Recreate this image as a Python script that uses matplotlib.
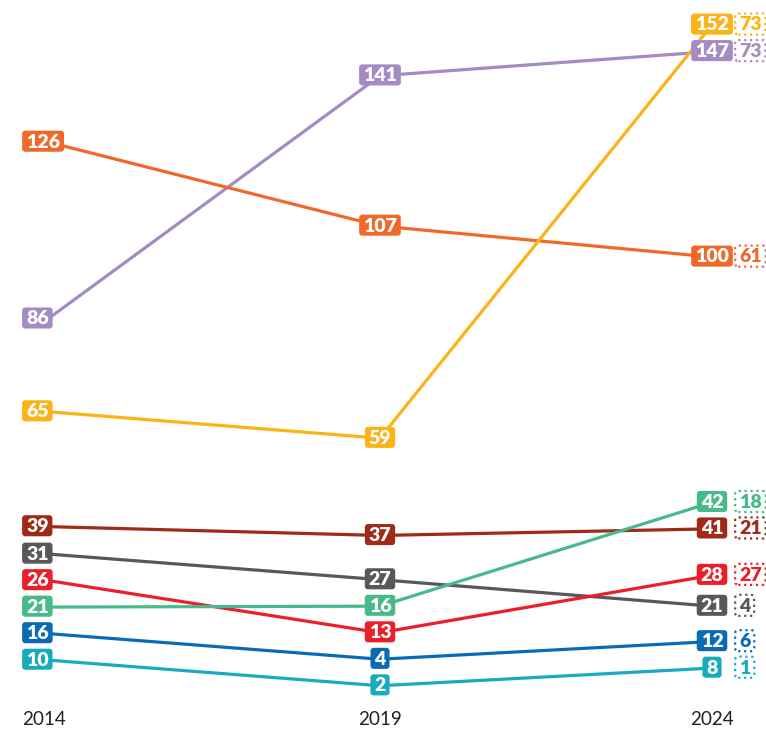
import numpy as np
import matplotlib
matplotlib.use('Agg')
import matplotlib.pyplot as plt
from matplotlib.patches import BoxStyle

# seats per party in each election year, plus a second count shown beside 2024
years = ['2014', '2019', '2024']
values_2014 = [86, 126, 65, 39, 31, 26, 21, 16, 10]
values_2019 = [141, 107, 59, 37, 27, 13, 16, 4, 2]
values_2024 = [147, 100, 152, 41, 21, 28, 42, 12, 8]
extra_2024 = [73, 61, 73, 21, 4, 27, 18, 6, 1]
colors = ['#a58bc3', '#f0692a', '#fbb316', '#9e2a17', '#58585a',
          '#ec1e28', '#48b98b', '#0b6ab4', '#18abbd']

plt.rcParams['font.family'] = ['Lato', 'DejaVu Sans']

_round = BoxStyle.Round(pad=0, rounding_size=0.16)


def tag_box(x0, y0, width, height, mutation_size):
    # rounded tag, wider at the sides than above/below the digits
    padx = 0.2 * mutation_size
    top = 0.15 * mutation_size
    bottom = 0.06 * mutation_size
    return _round(x0 - padx, y0 - bottom, width + 2 * padx, height + top + bottom, mutation_size)


def spread(vals, gap=6.0, floor=3.0):
    # push labels of one column apart so the tags do not overlap
    pos = np.array(vals, dtype=float)
    order = np.argsort(pos)
    p = pos[order]
    for _ in range(300):
        for i in range(len(p) - 1):
            d = p[i + 1] - p[i]
            if d < gap:
                p[i] -= (gap - d) / 2
                p[i + 1] += (gap - d) / 2
        p[0] = max(p[0], floor)
    pos[order] = p
    return pos


columns = [values_2014, values_2019, values_2024]
label_y = [spread(c) for c in columns]
xs = np.arange(len(years))

fig = plt.figure(figsize=(7.66, 7.33), dpi=100)
ax = fig.add_axes([0, 0, 1, 1])
ax.set_xlim(-48 / 332, 718 / 332)                                               # 2014 at 48px, one year step = 332px
ax.set_ylim(-34 / 4.42, 699 / 4.42)
ax.axis('off')

for k, c in enumerate(colors):
    ys = [label_y[j][k] for j in range(len(years))]
    ax.plot(xs, ys, color=c, lw=2.3, solid_capstyle='round', zorder=2)

for j in range(len(years)):
    for k, c in enumerate(colors):
        if j == 0:
            off, ha = (-22, 0), 'left'
        else:
            off, ha = (0, 0), 'center'
        ax.annotate(str(columns[j][k]), (xs[j], label_y[j][k]), xytext=off,
                    textcoords='offset pixels', ha=ha, va='center',
                    fontsize=14, fontweight='heavy', color='white', zorder=5,
                    bbox=dict(boxstyle=tag_box, fc=c, ec='none'))

# dotted tags with the second 2024 count
for k, c in enumerate(colors):
    ax.annotate(str(extra_2024[k]), (xs[2], label_y[2][k]), xytext=(27, 0),
                textcoords='offset pixels', ha='left', va='center',
                fontsize=14, fontweight='heavy', color=c, zorder=5,
                bbox=dict(boxstyle=tag_box, fc='white', ec=c, ls=':', lw=1.6))

# year captions along the bottom
for j, yr in enumerate(years):
    off, ha = ((-26, 0), 'left') if j == 0 else ((0, 0), 'center')
    ax.annotate(yr, (xs[j], 0.018), xycoords=ax.get_xaxis_transform(),
                xytext=off, textcoords='offset pixels', ha=ha, va='center',
                fontsize=13.6, color='#222222')

fig.savefig('out.png', dpi=100)
